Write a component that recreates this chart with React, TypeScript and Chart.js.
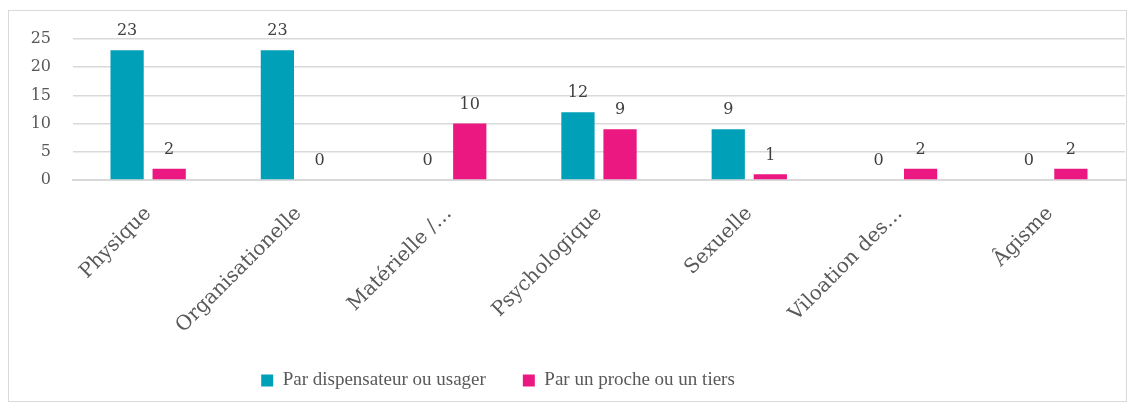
import React, { useEffect, useRef } from "react";
import { Chart, registerables } from "chart.js";

Chart.register(...registerables);

const categories = ["Physique", "Organisationelle", "Matérielle /…", "Psychologique", "Sexuelle", "Viloation des…", "Âgisme"];
const seriesA = [23, 23, 0, 12, 9, 0, 0];
const seriesB = [2, 0, 10, 9, 1, 2, 2];
const seriesNames = ["Par dispensateur ou usager", "Par un proche ou un tiers"];
const yTicks = [0, 5, 10, 15, 20, 25];

const SERIF = "'DejaVu Serif', serif";
const NARROW = "'Liberation Serif', serif";

const dataLabels = {
  id: "dataLabels",
  afterDatasetsDraw(chart: any) {
    const ctx = chart.ctx;
    ctx.save();
    ctx.font = `16px ${SERIF}`;
    ctx.fillStyle = "#404040";
    ctx.textAlign = "center";
    ctx.textBaseline = "middle";
    chart.data.datasets.forEach((ds: any, di: number) => {
      const meta = chart.getDatasetMeta(di);
      meta.data.forEach((bar: any, i: number) => {
        ctx.fillText(String(ds.data[i]), bar.x, bar.y - 19);
      });
    });
    ctx.restore();
  },
};

const legendPlacement = {
  id: "legendPlacement",
  beforeLayout(chart: any) {
    const lg = chart.legend;
    if (lg && !lg._patched) {
      const f = lg.fit;
      lg.fit = function () {
        f.call(this);
        this.height = 40;
      };
      lg._patched = true;
    }
  },
  afterLayout(chart: any) {
    const lg = chart.legend;
    if (lg) {
      lg.left -= 69;
      lg.right -= 69;
      lg.top = 323;
      lg.bottom = 390;
      lg.height = lg.bottom - lg.top;
    }
  },
};

export default function App() {
  const ref = useRef<HTMLCanvasElement>(null);
  useEffect(() => {
    const chart = new Chart(ref.current!, {
      type: "bar",
      data: {
        labels: categories,
        datasets: [
          { label: seriesNames[0], data: seriesA, backgroundColor: "#00A0B9", categoryPercentage: 0.56, barPercentage: 0.79 },
          { label: seriesNames[1], data: seriesB, backgroundColor: "#EC1881", categoryPercentage: 0.56, barPercentage: 0.79 },
        ],
      },
      options: {
        animation: false,
        responsive: false,
        maintainAspectRatio: false,
        layout: { padding: { left: 0, right: 1, top: 28, bottom: 4 } },
        plugins: {
          legend: {
            position: "bottom",
            labels: {
              font: { family: NARROW, size: 19 },
              color: "#595959",
              boxWidth: 12,
              boxHeight: 12,
              padding: 37,
            },
          },
          tooltip: { enabled: false },
        },
        scales: {
          x: {
            grid: { display: false },
            border: { color: "#d9d9d9", width: 2 },
            ticks: {
              minRotation: 45,
              maxRotation: 45,
              font: { family: SERIF, size: 20 },
              color: "#595959",
              padding: 14,
            },
            afterFit: (s: any) => { s.height = 177; s.paddingLeft = 0; s.paddingRight = 0; },
          },
          y: {
            min: 0,
            max: 25,
            afterBuildTicks: (s: any) => { s.ticks = yTicks.map((v) => ({ value: v })); },
            grid: { color: "#d9d9d9", lineWidth: 1.5, drawTicks: false },
            border: { display: false },
            ticks: {
              font: { family: SERIF, size: 16 },
              color: "#595959",
              padding: 22,
            },
            afterFit: (s: any) => { s.width = 64; s.paddingTop = 0; s.paddingBottom = 0; },
          },
        },
      },
      plugins: [dataLabels, legendPlacement],
    });
    return () => chart.destroy();
  }, []);
  return (
    <div style={{ width: 1119, height: 392, border: "1px solid #d9d9d9", marginTop: 2, boxSizing: "border-box" }}>
      <canvas ref={ref} width={1117} height={390} />
    </div>
  );
}
